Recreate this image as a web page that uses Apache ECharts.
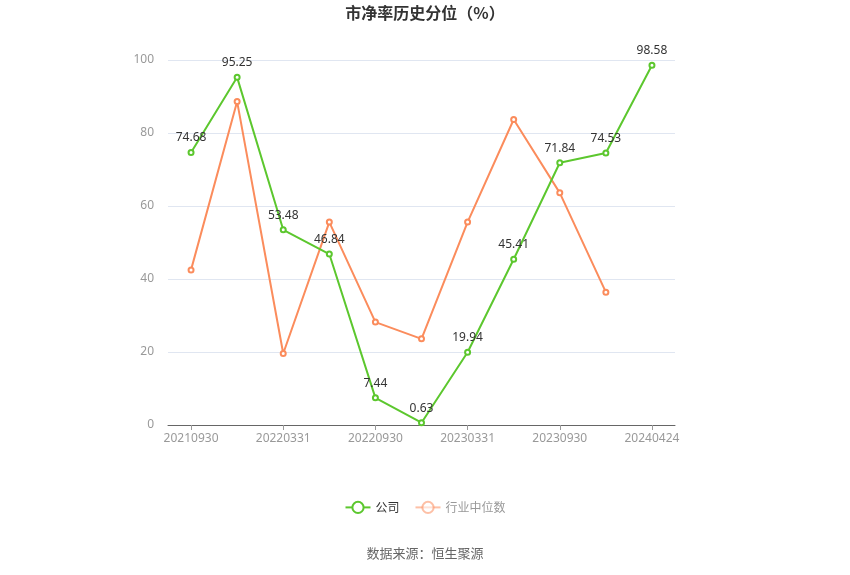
<!DOCTYPE html>
<html><head><meta charset="utf-8">
<script src="https://cdn.jsdelivr.net/npm/echarts@6/dist/echarts.min.js"></script>
<style>html,body{margin:0;padding:0;background:#fff}#c{width:850px;height:575px}</style>
</head><body><div id="c"></div>
<script>
const categories = ['20210930','20211231','20220331','20220630','20220930','20221230','20230331','20230630','20230930','20231231','20240424'];
const companyValues = [74.68, 95.25, 53.48, 46.84, 7.44, 0.63, 19.94, 45.41, 71.84, 74.53, 98.58];
const industryValues = [42.5, 88.6, 19.6, 55.6, 28.2, 23.6, 55.6, 83.7, 63.6, 36.4, null];
const yTicks = [0, 20, 40, 60, 80, 100];

const chart = echarts.init(document.getElementById('c'));
chart.setOption({
  animation: false,
  title: {
    text: '市净率历史分位（%）', left: 'center', top: 0,
    textStyle: {fontSize: 16, fontWeight: 'bold', color: '#333', fontFamily: 'Noto Sans CJK SC'}
  },
  legend: {
    bottom: 56, left: 'center', itemWidth: 25, itemHeight: 14, itemGap: 15,
    textStyle: {fontFamily: 'Noto Sans CJK SC', fontSize: 12, color: '#333'},
    data: [
      {name: '公司'},
      {name: '行业中位数', itemStyle: {opacity: 0.55}, lineStyle: {opacity: 0.55}, textStyle: {color: '#999'}}
    ]
  },
  graphic: [{
    type: 'text', left: 'center', top: 547,
    style: {text: '数据来源：恒生聚源', fontSize: 13, fill: '#666', fontFamily: 'Noto Sans CJK SC'}
  }],
  grid: {left: 168, right: 175, top: 60, bottom: 150},
  xAxis: {
    type: 'category', data: categories, boundaryGap: true,
    axisLine: {lineStyle: {color: '#666'}},
    axisTick: {show: true, alignWithLabel: true, interval: 1, lineStyle: {color: '#999'}},
    axisLabel: {interval: 1, color: '#999', fontSize: 12, fontFamily: 'Noto Sans', margin: 8}
  },
  yAxis: {
    type: 'value', min: yTicks[0], max: yTicks[yTicks.length - 1], interval: 20,
    axisLine: {show: false}, axisTick: {show: false},
    axisLabel: {color: '#999', fontSize: 12, fontFamily: 'Noto Sans', margin: 14},
    splitLine: {lineStyle: {color: '#E0E6F1'}}
  },
  series: [
    {
      name: '公司', type: 'line', data: companyValues,
      symbol: 'emptyCircle', symbolSize: 5,
      itemStyle: {color: '#5CC72E'}, lineStyle: {width: 2, color: '#5CC72E'},
      label: {show: true, position: 'top', color: '#333', fontSize: 12, fontFamily: 'Noto Sans', distance: 5},
      z: 3
    },
    {
      name: '行业中位数', type: 'line', data: industryValues,
      symbol: 'emptyCircle', symbolSize: 5,
      itemStyle: {color: '#FB8C5C'}, lineStyle: {width: 2, color: '#FB8C5C'},
      z: 2
    }
  ]
});
</script>
</body></html>
